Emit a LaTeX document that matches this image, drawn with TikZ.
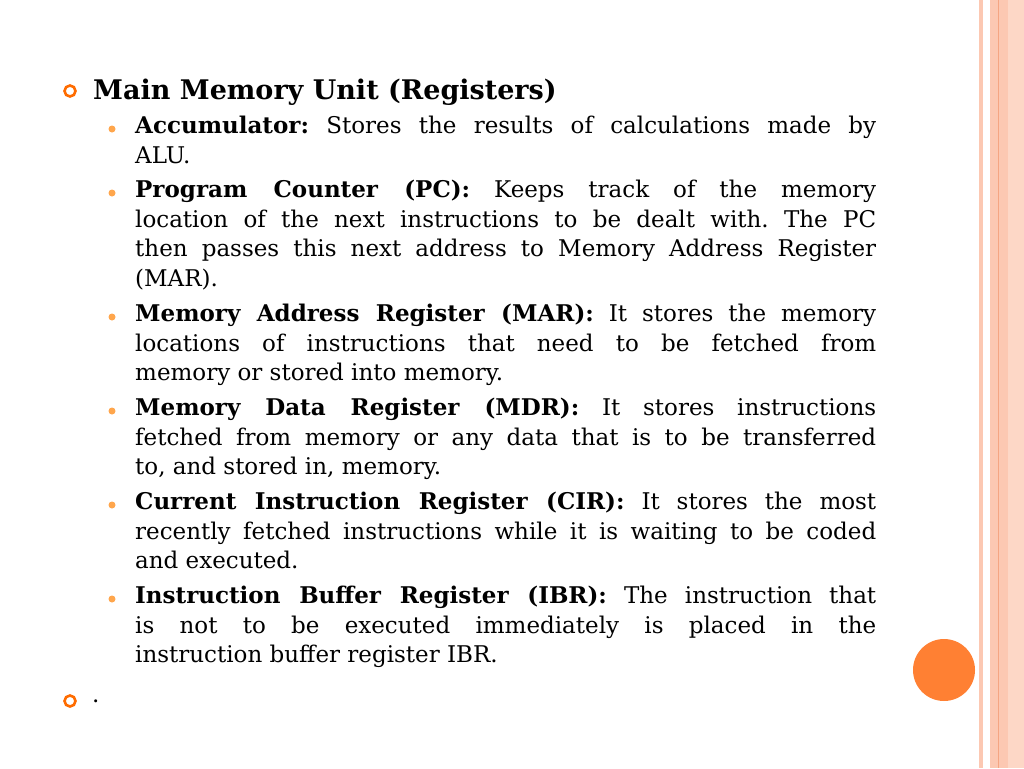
\documentclass[tikz,border=0pt]{standalone}
\usepackage{fontspec}
\setmainfont{DejaVu Serif}
\frenchspacing
\begin{document}
\begin{tikzpicture}[x=1pt,y=-1pt,
  item/.style={anchor=north west,inner sep=0pt,text width=741pt,align=justify,font=\fontsize{23}{29.5}\selectfont},
  dot/.style={circle,fill=orange!70!white,inner sep=0pt,minimum size=7pt},
  ring/.style={circle,draw=orange!85!red,line width=2.6pt,inner sep=0pt,minimum size=11pt}]
\useasboundingbox (0,0) rectangle (1024,768);
\fill[white] (0,0) rectangle (1024,768);
\definecolor{peach}{RGB}{252,200,178}
\definecolor{peachl}{RGB}{253,215,198}
\definecolor{peachd}{RGB}{245,165,130}
\fill[peach] (979,0) rectangle (983,768);
\fill[peach] (990,0) rectangle (1008,768);
\fill[peachd] (997.5,0) rectangle (999,768);
\fill[peachl] (1008,0) rectangle (1024,768);
\node[circle,fill=orange!75!red!80!white,minimum size=62pt,inner sep=0pt] (ball) at (944,670) {};
\node[ring] (r1) at (70,91) {};
\node[ring] (r2) at (70,701) {};
\node[anchor=west,inner sep=0pt,font=\fontsize{27}{30}\selectfont\bfseries] (title) at (93,92) {Main Memory Unit (Registers)};
\node[anchor=west,inner sep=0pt,font=\fontsize{23}{30}\selectfont] (dotend) at (92,701) {.};
\foreach \y/\n in {129/1,193/2,317/3,411/4,505/5,599/6} \node[dot] (b\n) at (112,\y) {};
\node[item] (i1) at (135,116) {\textbf{Accumulator:} Stores the results of calculations made by\linebreak ALU.};
\node[item] (i2) at (135,180) {\textbf{Program Counter (PC):} Keeps track of the memory\linebreak location of the next instructions to be dealt with. The PC\linebreak then passes this next address to Memory Address Register\linebreak (MAR).};
\node[item] (i3) at (135,304) {\textbf{Memory Address Register (MAR):} It stores the memory\linebreak locations of instructions that need to be fetched from\linebreak memory or stored into memory.};
\node[item] (i4) at (135,398) {\textbf{Memory Data Register (MDR):} It stores instructions\linebreak fetched from memory or any data that is to be transferred\linebreak to, and stored in, memory.};
\node[item] (i5) at (135,492) {\textbf{Current Instruction Register (CIR):} It stores the most\linebreak recently fetched instructions while it is waiting to be coded\linebreak and executed.};
\node[item] (i6) at (135,586) {\textbf{Instruction Buffer Register (IBR):} The instruction that\linebreak is not to be executed immediately is placed in the\linebreak instruction buffer register IBR.};
\end{tikzpicture}
\end{document}
